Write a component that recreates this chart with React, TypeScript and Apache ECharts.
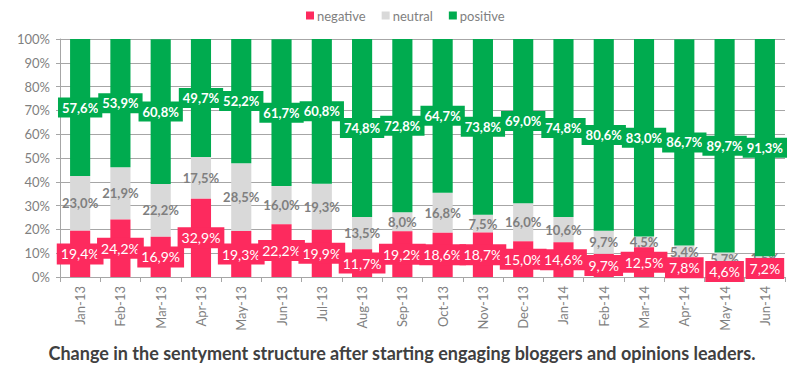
import React, { useEffect, useRef } from "react";
import * as echarts from "echarts";

const categories = ["Jan-13","Feb-13","Mar-13","Apr-13","May-13","Jun-13","Jul-13","Aug-13","Sep-13","Oct-13","Nov-13","Dec-13","Jan-14","Feb-14","Mar-14","Apr-14","May-14","Jun-14"];
const negative = [19.4,24.2,16.9,32.9,19.3,22.2,19.9,11.7,19.2,18.6,18.7,15.0,14.6,9.7,12.5,7.8,4.6,7.2];
const neutral = [23.0,21.9,22.2,17.5,28.5,16.0,19.3,13.5,8.0,16.8,7.5,16.0,10.6,9.7,4.5,5.4,5.7,1.5];
const positive = [57.6,53.9,60.8,49.7,52.2,61.7,60.8,74.8,72.8,64.7,73.8,69.0,74.8,80.6,83.0,86.7,89.7,91.3];
const titleText = "Change in the sentyment structure after starting engaging bloggers and opinions leaders.";

const RED = "#fd2a5e";
const GRAY = "#d9d9d9";
const GREEN = "#00ab4f";
const FONT = "Lato";

const fmt = (p: any) => p.value.toFixed(1).replace(".", ",") + "%";

export default function App() {
  const ref = useRef<HTMLDivElement>(null);
  useEffect(() => {
    const chart = echarts.init(ref.current!, null, { renderer: "svg" });
    chart.setOption({
      animation: false,
      textStyle: { fontFamily: FONT },
      title: {
        text: titleText,
        left: "center",
        top: 339,
        textStyle: { fontFamily: FONT, fontSize: 18, fontWeight: "bold", color: "#404040" },
      },
      legend: {
        top: 4,
        left: 301,
        itemWidth: 8,
        itemHeight: 8,
        itemGap: 16,
        icon: "rect",
        textStyle: { fontFamily: FONT, fontSize: 13, color: "#7f7f7f", padding: [0, 0, 0, -2] },
        data: ["negative", "neutral", "positive"],
      },
      grid: { left: 60, right: 19, top: 39, bottom: 96 },
      xAxis: {
        type: "category",
        data: categories,
        axisLine: { lineStyle: { color: "#a6a6a6" } },
        axisTick: { show: true, length: 5, lineStyle: { color: "#a6a6a6" } },
        axisLabel: { rotate: 90, fontSize: 13, color: "#7f7f7f", margin: 9, fontFamily: FONT },
      },
      yAxis: {
        type: "value",
        min: 0,
        max: 100,
        interval: 10,
        axisLine: { show: true, lineStyle: { color: "#a6a6a6" } },
        axisTick: { show: true, length: 4, lineStyle: { color: "#a6a6a6" } },
        splitLine: { lineStyle: { color: "#a6a6a6" } },
        axisLabel: { formatter: "{value}%", fontSize: 13, color: "#7f7f7f", margin: 10, fontFamily: FONT },
      },
      series: [
        {
          name: "negative",
          type: "bar",
          stack: "s",
          barWidth: "50%",
          z: 4,
          itemStyle: { color: RED },
          data: negative,
          label: {
            show: true,
            position: "inside",
            formatter: fmt,
            color: "#ffffff",
            fontSize: 14,
            fontFamily: FONT,
            backgroundColor: RED,
            padding: [4, 4, 3, 4],
          },
        },
        {
          name: "neutral",
          type: "bar",
          stack: "s",
          barWidth: "50%",
          z: 2,
          itemStyle: { color: GRAY },
          data: neutral,
          label: {
            show: true,
            position: "inside",
            formatter: fmt,
            color: "#7f7f7f",
            fontSize: 13,
            fontWeight: "bold",
            fontFamily: FONT,
          },
        },
        {
          name: "positive",
          type: "bar",
          stack: "s",
          barWidth: "50%",
          z: 4,
          itemStyle: { color: GREEN },
          data: positive,
          label: {
            show: true,
            position: "inside",
            formatter: fmt,
            color: "#ffffff",
            fontSize: 13,
            fontWeight: "bold",
            fontFamily: FONT,
            backgroundColor: GREEN,
            padding: [4, 4, 3, 4],
          },
        },
      ],
    });
    return () => chart.dispose();
  }, []);
  return (
    <div
      ref={ref}
      style={{ position: "fixed", left: 0, top: 0, width: 804, height: 373, background: "#fff" }}
    />
  );
}
